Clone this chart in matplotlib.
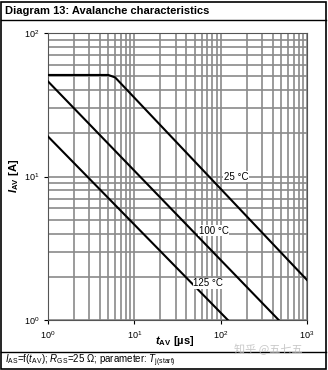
import matplotlib.pyplot as plt
from matplotlib.patches import Rectangle
from matplotlib.lines import Line2D

plt.rcParams['font.family'] = ['Liberation Sans', 'DejaVu Sans']
plt.rcParams['mathtext.fontset'] = 'custom'
plt.rcParams['mathtext.rm'] = 'Liberation Sans'
plt.rcParams['mathtext.it'] = 'Liberation Sans:italic'
plt.rcParams['mathtext.bf'] = 'Liberation Sans:bold:italic'
plt.rcParams['mathtext.sf'] = 'Liberation Sans:bold'

# avalanche curves, t_AV [us] vs I_AV [A]
t_25 = [1, 5.0, 6.0, 1000]
i_25 = [51, 51, 49, 1.9]
t_100 = [1, 470]
i_100 = [46, 1]
t_125 = [1, 121]
i_125 = [19, 1]

labels = ["25 °C", "100 °C", "125 °C"]
label_t = [150, 83, 72]
label_i = [10.0, 4.2, 1.8]

fig = plt.figure(figsize=(3.28, 3.70), dpi=100)
ax = fig.add_axes([48/328, 50/370, 259/328, 287/370])

ax.plot(t_25, i_25, color='black', lw=1.5, zorder=3)
ax.plot(t_100, i_100, color='black', lw=1.5, zorder=3)
ax.plot(t_125, i_125, color='black', lw=1.5, zorder=3)

for txt, tx, iy in zip(labels, label_t, label_i):
    ax.text(tx, iy, txt, fontsize=7, ha='center', va='center', zorder=4,
            bbox=dict(facecolor='white', edgecolor='none', pad=0.5))

ax.set_xscale('log')
ax.set_yscale('log')
ax.set_xlim(1, 1000)
ax.set_ylim(1, 100)
ax.grid(True, which='both', color='#8a8a8a', lw=1.2)
ax.tick_params(which='major', labelsize=6.5, length=3, width=0.8)
ax.tick_params(which='minor', length=0)
for s in ax.spines.values():
    s.set_color('#555555')

# axis labels placed directly in figure coordinates
fig.text(175/328, 1 - 341/370, r"$\mathbf{t}$$_{\mathsf{AV}}$ [µs]", fontsize=8,
         fontweight='bold', ha='center', va='center')
fig.text(14/328, 1 - 176/370, r"$\mathbf{I}$$_{\mathsf{AV}}$ [A]", fontsize=8,
         fontweight='bold', ha='center', va='center', rotation=90)

# frame, title bar and caption bar
fig.add_artist(Rectangle((1/328, 1/370), 325/328, 367/370, transform=fig.transFigure,
                         fill=False, edgecolor='black', lw=1.2))
fig.add_artist(Line2D([1/328, 326/328], [1 - 20/370, 1 - 20/370], transform=fig.transFigure,
                      color='black', lw=1.0))
fig.add_artist(Line2D([1/328, 326/328], [1 - 352/370, 1 - 352/370], transform=fig.transFigure,
                      color='black', lw=1.0))
fig.text(5/328, 1 - 11/370, "Diagram 13: Avalanche characteristics", fontsize=8,
         fontweight='bold', va='center', ha='left')
fig.text(5/328, 1 - 361/370,
         r"$\it{I}$$_{\rm AS}$=f($\it{t}$$_{\rm AV}$); $\it{R}$$_{\rm GS}$=25 Ω; parameter: $\it{T}$$_{\rm j(start)}$",
         fontsize=7, va='center', ha='left')
fig.text(268/328, 1 - 349/370, "知乎 @五七五", fontsize=8, color='#bbbbbb', alpha=0.8,
         va='center', ha='center', family=['Noto Sans CJK SC', 'DejaVu Sans'])

fig.savefig('out.png', dpi=100)
